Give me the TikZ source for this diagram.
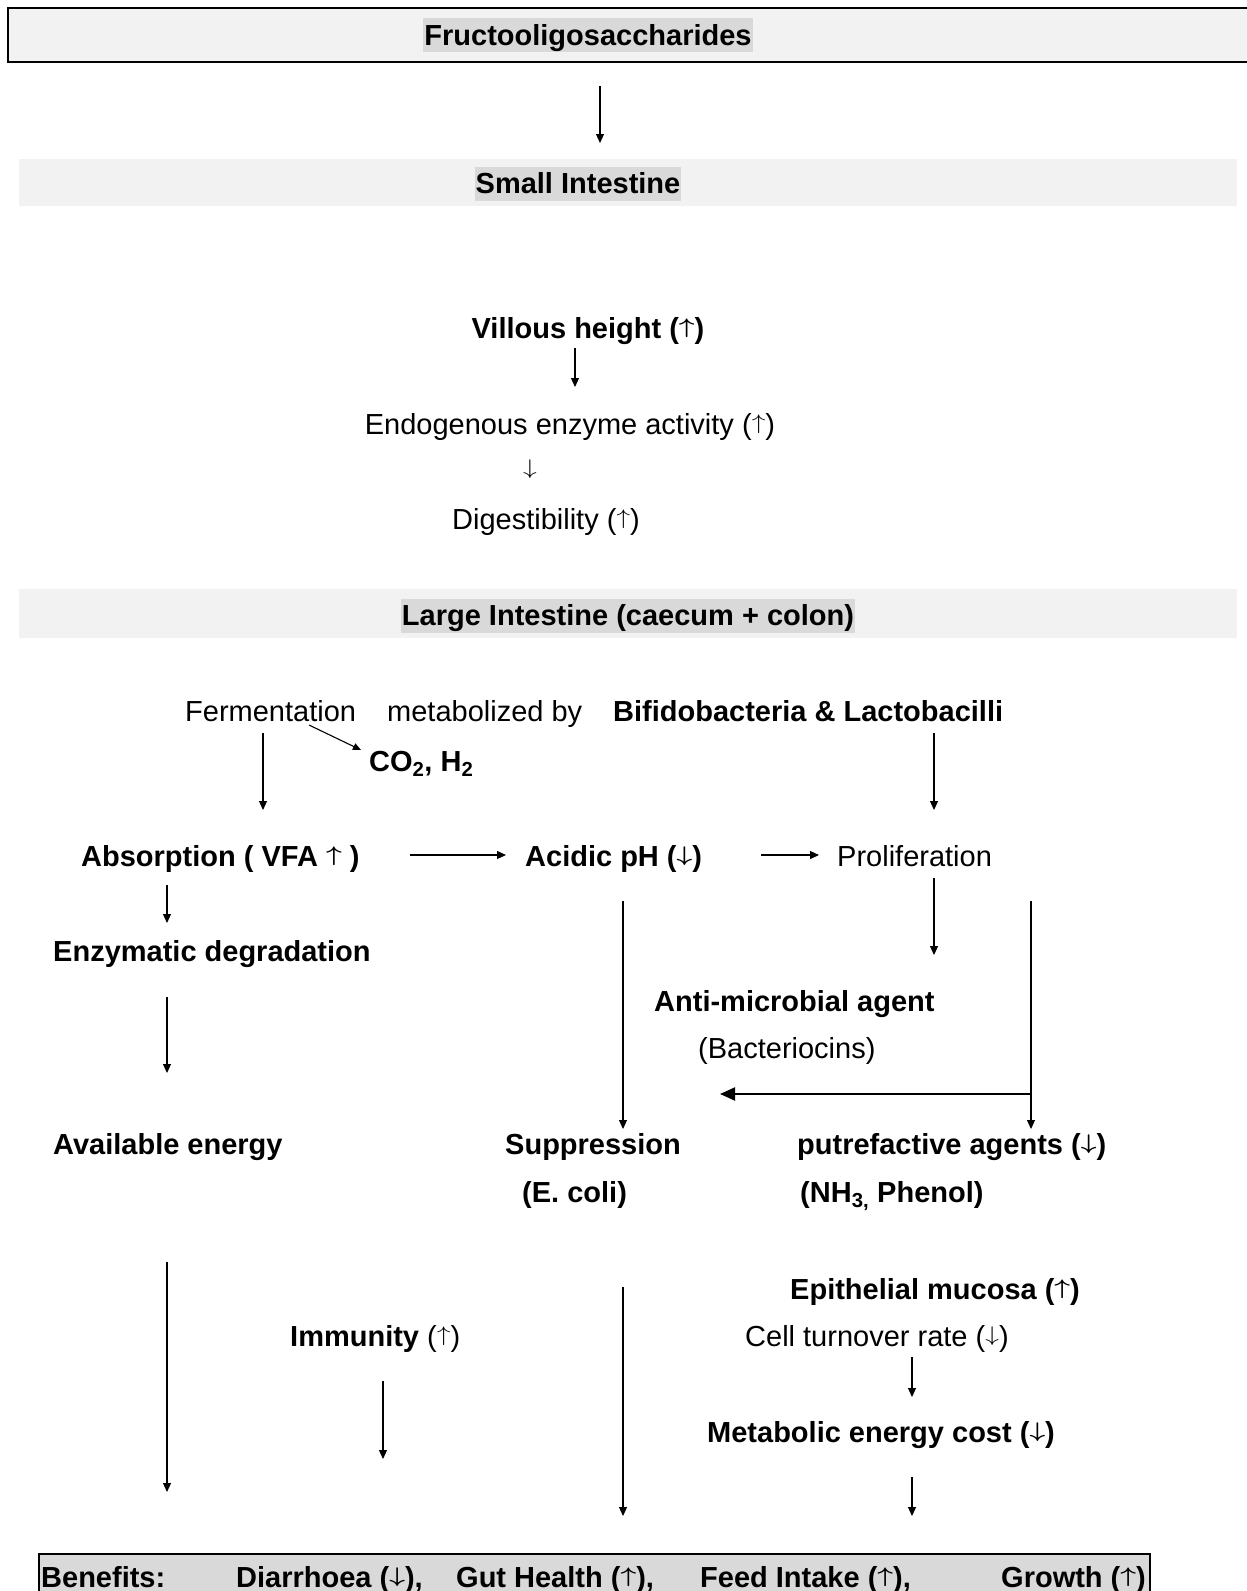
\documentclass[tikz,border=0pt]{standalone}
\usepackage{fontspec}
\usepackage{graphicx}
\setmainfont{Liberation Sans}
\usetikzlibrary{arrows.meta}
\definecolor{bandgray}{HTML}{F2F2F2}
\definecolor{hlgray}{HTML}{D9D9D9}
\newcommand\upa{\raisebox{0.165em}{\scalebox{1.1}[0.85]{\ensuremath{\uparrow}}}}
\newcommand\dna{\raisebox{0.165em}{\scalebox{1.1}[0.85]{\ensuremath{\downarrow}}}}
\begin{document}
\begin{tikzpicture}[x=1pt,y=-1pt,
  lbl/.style={font=\fontsize{29}{34}\selectfont, inner sep=0pt, text height=21pt, text depth=0pt, anchor=west},
  blbl/.style={lbl, font=\fontsize{29}{34}\selectfont\bfseries\boldmath},
  hl/.style={fill=hlgray, font=\fontsize{29}{34}\selectfont\bfseries, inner xsep=1pt, inner ysep=1pt, text height=26pt, text depth=6pt},
  arr/.style={line width=1.1pt, -{Triangle[length=9pt,width=8pt]}},
  bigarr/.style={line width=2pt, -{Triangle[length=15pt,width=13pt]}}
]
\useasboundingbox (0,0) rectangle (1247,1591);
% top box
\path[fill=bandgray, draw=black, line width=1.6pt] (8,8) rectangle (1260,62);
\node[hl] (fos) at (588,35) {Fructooligosaccharides};
% small intestine band
\path[fill=bandgray] (19,159) rectangle (1237,206);
\node[hl] (si) at (578,183.5) {Small Intestine};
\coordinate (a1s) at (600,86); \coordinate (a1e) at (600,143);
\draw[arr] (a1s) -- (a1e);
% small intestine chain
\node[blbl, anchor=center] (vh) at (588,328) {Villous height (\upa)};
\node[lbl, anchor=center] (ee) at (570,424) {Endogenous enzyme activity (\upa)};
\node[lbl, anchor=center] (dar) at (530,469) {\dna};
\node[lbl, anchor=center] (dg) at (546,519) {Digestibility (\upa)};
\coordinate (a2s) at (575,348); \coordinate (a2e) at (575,387);
\draw[arr] (a2s) -- (a2e);
% large intestine band
\path[fill=bandgray] (19,589) rectangle (1237,638);
\node[hl] (li) at (628,615.5) {Large Intestine (caecum + colon)};
% fermentation line
\node[lbl] (fer) at (185,711) {Fermentation};
\node[lbl] (met) at (387,711) {metabolized by};
\node[blbl] (bif) at (613,711) {Bifidobacteria \& Lactobacilli};
\node[blbl] (co2) at (369,761) {CO\textsubscript{2}, H\textsubscript{2}};
\coordinate (d1s) at (309,725); \coordinate (d1e) at (361,750);
\draw[line width=1.1pt, -{Triangle[length=8pt,width=7pt]}] (d1s) -- (d1e);
\coordinate (f1s) at (263,733); \coordinate (f1e) at (263,810);
\draw[arr] (f1s) -- (f1e);
\coordinate (b1s) at (934,733); \coordinate (b1e) at (934,810);
\draw[arr] (b1s) -- (b1e);
% row absorption
\node[blbl] (abs) at (81,856) {Absorption ( VFA \upa\ )};
\node[blbl] (aph) at (525,856) {Acidic pH (\dna)};
\node[lbl] (pro) at (837,856) {Proliferation};
\coordinate (h1s) at (410,855); \coordinate (h1e) at (506,855);
\draw[arr] (h1s) -- (h1e);
\coordinate (h2s) at (761,855); \coordinate (h2e) at (819,855);
\draw[arr] (h2s) -- (h2e);
% left column
\coordinate (l1s) at (167,885); \coordinate (l1e) at (167,923);
\draw[arr] (l1s) -- (l1e);
\node[blbl] (enz) at (53,951) {Enzymatic degradation};
\coordinate (l2s) at (167,997); \coordinate (l2e) at (167,1073);
\draw[arr] (l2s) -- (l2e);
\node[blbl] (ae) at (53,1144) {Available energy};
\coordinate (l3s) at (167,1262); \coordinate (l3e) at (167,1492);
\draw[arr] (l3s) -- (l3e);
% middle column
\coordinate (m1s) at (623,901); \coordinate (m1e) at (623,1129);
\draw[arr] (m1s) -- (m1e);
\node[blbl] (sup) at (505,1144) {Suppression};
\node[blbl] (eco) at (522,1192) {(E. coli)};
\coordinate (m2s) at (623,1287); \coordinate (m2e) at (623,1516);
\draw[arr] (m2s) -- (m2e);
% right column
\coordinate (r1s) at (934,878); \coordinate (r1e) at (934,955);
\draw[arr] (r1s) -- (r1e);
\node[blbl] (amb) at (654,1001) {Anti-microbial agent};
\node[lbl] (bac) at (698,1048) {(Bacteriocins)};
\coordinate (v1s) at (1031,901); \coordinate (v1e) at (1031,1129);
\coordinate (v1m) at (1031,1094); \coordinate (v1t) at (720,1094);
\draw[arr] (v1s) -- (v1e);
\draw[bigarr] (v1m) -- (v1t);
\node[blbl] (put) at (797,1144) {putrefactive agents (\dna)};
\node[blbl] (nh3) at (800,1192) {(NH\textsubscript{3,} Phenol)};
% lower right
\node[blbl] (epi) at (790,1289) {Epithelial mucosa (\upa)};
\node[lbl] (cell) at (745,1336) {Cell turnover rate (\dna)};
\coordinate (c1s) at (912,1357); \coordinate (c1e) at (912,1397);
\draw[arr] (c1s) -- (c1e);
\node[blbl] (mec) at (707,1432) {Metabolic energy cost (\dna)};
\coordinate (c2s) at (912,1477); \coordinate (c2e) at (912,1516);
\draw[arr] (c2s) -- (c2e);
% immunity
\node[lbl] (imm) at (290,1336) {\textbf{Immunity} (\upa)};
\coordinate (i1s) at (383,1381); \coordinate (i1e) at (383,1459);
\draw[arr] (i1s) -- (i1e);
% benefits box
\path[fill=hlgray, draw=black, line width=2pt] (39,1554) rectangle (1150,1600);
\node[blbl] (ben) at (41,1577) {Benefits:};
\node[blbl] (dia) at (236,1577) {Diarrhoea (\dna),};
\node[blbl] (gut) at (456,1577) {Gut Health (\upa),};
\node[blbl] (fee) at (700,1577) {Feed Intake (\upa),};
\node[blbl] (gro) at (1001,1577) {Growth (\upa)};
\end{tikzpicture}
\end{document}
